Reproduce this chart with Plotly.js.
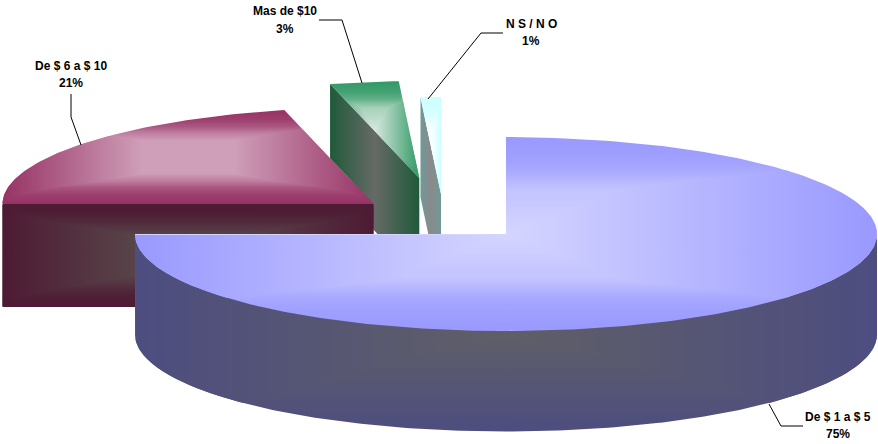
<!DOCTYPE html>
<html>
<head>
<meta charset="utf-8">
<title>Gasto por rango</title>
<script src="https://cdn.plot.ly/plotly-3.0.1.min.js"></script>
<style>html,body{margin:0;padding:0;background:#fff}#chart{width:878px;height:444px}</style>
</head>
<body>
<div id="chart"></div>
<script>
// Share of answers per spending range
const categories = ['De $ 1 a $ 5', 'De $ 6 a $ 10', 'Mas de $10', 'N S / N O'];
const shares = [75, 21, 3, 1];

// Exploded pie geometry in pixels: tilted disc radii, wall heights, slice hubs
const RX = 371, RY = 97;
const wallDepth = [100.5, 103, 100, 100];
const hubX = [506, 373.5, 419.3, 441];
const hubY = [234, 204, 178, 194];

const toPi = Math.PI / 180;

// Far rim is drawn a little narrower, as a perspective camera would show it
function rimX(a) {
  const c = Math.cos(a);
  return RX * Math.sin(a) * (c > 0 ? 1 - 0.13 * Math.pow(c, 43) : 1);
}
function rimY(a) { return -RY * Math.cos(a); }

// Start and end angle of each slice, clockwise from twelve o'clock
const total = shares.reduce((s, v) => s + v, 0);
let running = 0;
const spans = shares.map(v => {
  const from = running / total * 360;
  running += v;
  return [from * toPi, running / total * 360 * toPi];
});

function arc(from, to) {
  const n = Math.max(2, Math.ceil((to - from) / toPi));
  const out = [];
  for (let i = 0; i <= n; i++) out.push(from + (to - from) * i / n);
  return out;
}

function topFace(i) {
  const [a, b] = spans[i];
  const angles = arc(a, b);
  return {
    x: [hubX[i], ...angles.map(t => hubX[i] + rimX(t)), hubX[i]],
    y: [hubY[i], ...angles.map(t => hubY[i] + rimY(t)), hubY[i]]
  };
}

// Flat wall along the slice's opening radius
function cutWall(i) {
  const a = spans[i][0];
  const ex = hubX[i] + rimX(a), ey = hubY[i] + rimY(a);
  return {
    x: [ex, hubX[i], hubX[i], ex, ex],
    y: [ey, hubY[i], hubY[i] + wallDepth[i], ey + wallDepth[i], ey]
  };
}

// Curved outer wall below the rim between two angles, as a closed outline
function rimWall(i, from, to) {
  const angles = arc(from, to);
  const back = angles.slice().reverse();
  const xs = [...angles.map(t => hubX[i] + rimX(t)), ...back.map(t => hubX[i] + rimX(t))];
  const ys = [...angles.map(t => hubY[i] + rimY(t)), ...back.map(t => hubY[i] + rimY(t) + wallDepth[i])];
  return { x: [...xs, xs[0]], y: [...ys, ys[0]] };
}

const traces = [];
function paint(shape, type, start, stop, colorscale) {
  traces.push({
    type: 'scatter', mode: 'lines', x: shape.x, y: shape.y,
    line: { width: 0 }, fill: 'toself',
    fillgradient: { type, start, stop, colorscale },
    hoverinfo: 'skip', showlegend: false
  });
}

function mix(c0, c1, t) {
  const v = c0.map((c, k) => Math.round(c + (c1[k] - c) * t));
  return `rgb(${v[0]},${v[1]},${v[2]})`;
}

// Piecewise-linear lookup along a [position, level] ramp
function level(ramp, t) {
  for (let k = 1; k < ramp.length; k++) {
    if (t <= ramp[k][0]) {
      const [a, va] = ramp[k - 1], [b, vb] = ramp[k];
      return va + (vb - va) * (t - a) / (b - a);
    }
  }
  return ramp[ramp.length - 1][1];
}

// Leftmost and rightmost polygon crossing of a horizontal line
function spanAt(shape, y) {
  let lo = Infinity, hi = -Infinity;
  for (let k = 0; k + 1 < shape.x.length; k++) {
    const y0 = shape.y[k], y1 = shape.y[k + 1];
    if ((y0 <= y && y < y1) || (y1 <= y && y < y0)) {
      const x = shape.x[k] + (shape.x[k + 1] - shape.x[k]) * (y - y0) / (y1 - y0);
      lo = Math.min(lo, x); hi = Math.max(hi, x);
    }
  }
  return [lo, hi];
}

// Mitred "rectangle" shading: the level at a point is the smaller of a linear
// ramp in x and a ramp in y, so the face splits into y-shaded and x-shaded parts.
// `flat` is the share of the half width that stays at full brightness.
function shade(shape, box, edge, centre, ramp, flat = 0) {
  const [x0, x1, y0, y1] = box;
  const cx = (x0 + x1) / 2, cy = (y0 + y1) / 2, hw = (x1 - x0) / 2, hh = (y1 - y0) / 2;
  const edgeColor = mix(edge, centre, 0), midColor = mix(edge, centre, 1);
  if (!ramp) {
    paint(shape, 'horizontal', x0, x1, [[0, edgeColor], [0.5, midColor], [1, edgeColor]]);
    return;
  }
  const upper = ramp.map(([t, v]) => [t / 2, mix(edge, centre, v)]);
  const lower = ramp.slice(0, -1).reverse().map(([t, v]) => [1 - t / 2, mix(edge, centre, v)]);
  paint(shape, 'vertical', y0, y1, [...upper, ...lower]);

  const top = Math.min(...shape.y), bottom = Math.max(...shape.y);
  const rows = [top + 0.01];
  for (let y = Math.ceil(top + 0.5); y < bottom - 0.01; y += 1) rows.push(y);
  rows.push(bottom - 0.01);

  const left = [], right = [];
  rows.forEach(y => {
    const [lo, hi] = spanAt(shape, y);
    if (!(lo < hi)) return;
    const t = Math.max(0, 1 - Math.abs(y - cy) / hh);
    const inset = hw * (1 - level(ramp, t) * (1 - flat));
    const lim = cx - inset, rim = cx + inset;
    if (lo < lim) left.push([lo, Math.min(hi, lim), y]);
    if (hi > rim) right.push([Math.max(lo, rim), hi, y]);
  });
  const ribbon = rowsOf => ({
    x: [...rowsOf.map(r => r[0]), ...rowsOf.slice().reverse().map(r => r[1])],
    y: [...rowsOf.map(r => r[2]), ...rowsOf.slice().reverse().map(r => r[2])]
  });
  const reach = hw * (1 - flat);
  if (left.length > 1) paint(ribbon(left), 'horizontal', x0, x0 + reach, [[0, edgeColor], [1, midColor]]);
  if (right.length > 1) paint(ribbon(right), 'horizontal', x1 - reach, x1, [[0, midColor], [1, edgeColor]]);
}

const softRamp = [[0, 0], [0.2, 0.1], [0.35, 0.27], [0.45, 0.5], [0.55, 0.72], [0.7, 0.8], [1, 1]];
const plateauRamp = [[0, 0], [0.2, 0.12], [0.35, 0.34], [0.48, 0.68], [0.65, 1], [1, 1]];
const flatRamp = [[0, 0], [1, 1]];

// Green slice
shade(cutWall(2), [330, 419.3, 85, 278], [31, 90, 58], [102, 106, 102], null);
shade(topFace(2), [330, 419.3, 82, 178], [51, 153, 102], [214, 232, 222], softRamp);

// Pale slice
shade(cutWall(3), [421, 441, 99, 294], [112, 152, 152], [138, 138, 138], null);
shade(topFace(3), [421, 441, 99, 194], [204, 255, 255], [255, 255, 255], softRamp);

// Magenta slice
shade(cutWall(1), [2, 374, 204, 307], [77, 26, 51], [88, 70, 74], plateauRamp, 0.25);
shade(topFace(1), [2, 374, 110, 204], [150, 50, 100], [207, 158, 184], plateauRamp, 0.25);

// Largest slice
shade(rimWall(0, 90 * toPi, 270 * toPi), [135, 877, 234, 432], [77, 77, 128], [95, 95, 103], flatRamp);
shade(topFace(0), [135, 877, 137, 331], [153, 153, 255], [213, 213, 255], softRamp);

// Callouts: name and percentage sit on separate lines
const nameX = [838, 71, 284.5, 531];
const nameY = [417, 65.5, 10.5, 23.5];
const shareY = [434, 83, 29, 40.5];
const leaders = [
  'M769,404 L781,426 L803,426',
  'M71,94 L71,117 L81,145',
  'M319,20 L342,20 L362,83',
  'M503,33 L481,33 L428,99'
];

function label(text, x, y) {
  return {
    x, y, xref: 'x', yref: 'y', text: `<b>${text}</b>`,
    showarrow: false, xanchor: 'center', yanchor: 'middle', align: 'center',
    font: { family: '"Liberation Sans", Arial, sans-serif', size: 12, color: '#000000' }
  };
}

const layout = {
  width: 878, height: 444,
  margin: { l: 0, r: 0, t: 0, b: 0 },
  paper_bgcolor: '#ffffff', plot_bgcolor: '#ffffff',
  showlegend: false,
  xaxis: { range: [0, 878], visible: false, fixedrange: true },
  yaxis: { range: [444, 0], visible: false, fixedrange: true },
  shapes: leaders.map(path => ({ type: 'path', path, line: { color: '#000000', width: 1 } })),
  annotations: categories.flatMap((name, i) => [
    label(name, nameX[i], nameY[i]),
    label(`${shares[i]}%`, nameX[i], shareY[i])
  ])
};

Plotly.newPlot('chart', traces, layout, { displayModeBar: false, staticPlot: true });
</script>
</body>
</html>
